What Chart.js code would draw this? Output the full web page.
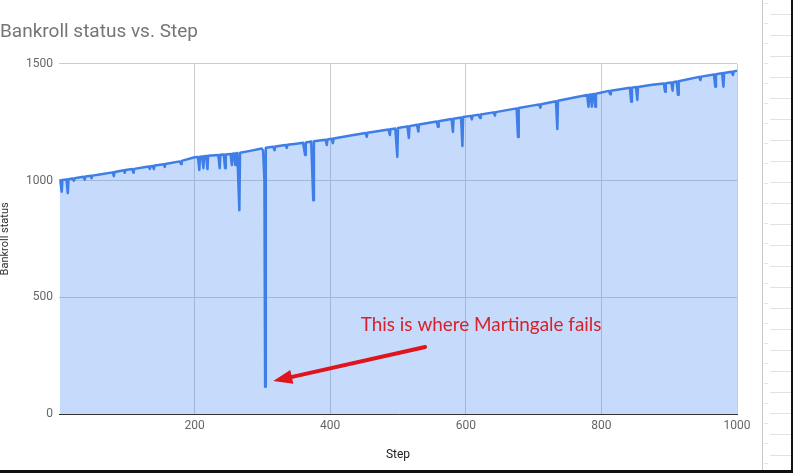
<!DOCTYPE html>
<html>
<head>
<meta charset="utf-8">
<script src="https://cdn.jsdelivr.net/npm/chart.js@4"></script>
<style>
  html, body { margin: 0; padding: 0; background: #fff; }
  #wrap { width: 793px; height: 473px; }
</style>
</head>
<body>
<div id="wrap"><canvas id="chart" width="793" height="473"></canvas></div>
<script>
// values: step and bankroll at that step (dips included)
const steps = [
  1, 2, 4, 5, 11, 13, 14, 20, 22, 23, 36, 38, 39, 47, 48, 49, 60, 79, 81, 82,
  96, 97, 98, 108, 110, 111,
  132, 134, 135, 138, 140, 141, 155, 156, 157, 178, 180, 181, 200,
  205, 207, 208, 211, 213, 214, 217, 219, 220, 235, 237, 238, 243, 245, 246,
  253, 255, 256, 258, 260, 261, 263, 266, 267, 280,
  299, 301, 303, 304, 305, 316, 318, 319, 334, 336, 337, 350,
  360, 363, 364, 372, 375, 376, 393, 395, 396, 402, 404, 405, 430,
  452, 454, 455, 486, 488, 489, 496, 499, 500, 514, 516, 517, 528, 530, 531,
  557, 559, 560, 579, 581, 582, 593, 595, 596, 607, 609, 610, 619, 621, 622,
  641, 643, 644, 675, 677, 678, 700, 708, 710, 711,
  733, 735, 736, 760, 779, 781, 782, 784, 786, 787, 789, 791, 792,
  811, 813, 814, 842, 844, 845, 851, 853, 854, 875, 892, 894, 895, 903, 905, 906,
  911, 913, 914, 944, 946, 947, 966, 968, 969, 978, 980, 981, 992, 994, 995, 1000
];
const bankroll = [
  1000, 1001, 952, 1002, 1005, 946, 1006, 1009, 999, 1010, 1016, 1004, 1017, 1020, 1010, 1021, 1026, 1035, 1019, 1037,
  1044, 1033, 1045, 1049, 1033, 1050,
  1060, 1050, 1061, 1062, 1049, 1064, 1070, 1058, 1071, 1082, 1071, 1084, 1100,
  1101, 1045, 1102, 1103, 1053, 1104, 1105, 1049, 1106, 1109, 1053, 1110, 1111, 1053, 1112,
  1114, 1066, 1115, 1116, 1066, 1117, 1118, 873, 1119, 1126,
  1137, 1128, 1000, 117, 1140, 1145, 1130, 1146, 1152, 1140, 1153, 1158,
  1162, 1109, 1163, 1167, 916, 1168, 1175, 1152, 1176, 1179, 1160, 1180, 1193,
  1204, 1187, 1205, 1219, 1195, 1220, 1223, 1101, 1225, 1232, 1182, 1233, 1239, 1210, 1240,
  1253, 1230, 1254, 1264, 1208, 1265, 1270, 1148, 1272, 1277, 1262, 1278, 1282, 1268, 1283,
  1292, 1278, 1293, 1309, 1187, 1311, 1322, 1326, 1312, 1327,
  1340, 1221, 1342, 1356, 1366, 1316, 1367, 1369, 1316, 1370, 1371, 1316, 1372,
  1384, 1370, 1385, 1397, 1337, 1398, 1401, 1345, 1401, 1410, 1416, 1380, 1417, 1420, 1385, 1421,
  1424, 1367, 1425, 1444, 1430, 1445, 1454, 1402, 1455, 1460, 1402, 1461, 1466, 1452, 1467, 1470
];
const xTicks = [200, 400, 600, 800, 1000];
const yTicks = [0, 500, 1000, 1500];

// the red note drawn on top, anchored in data units
const noteText = 'This is where Martingale fails';
const noteAt = [445, 355];
const arrowFrom = [540, 287];
const arrowTo = [316, 141];

const points = steps.map((s, i) => ({ x: s, y: bankroll[i] }));

// the sheet frame seen round the chart (grid cells on the right, border below)
const sheetFrame = {
  id: 'sheetFrame',
  afterDraw(chart) {
    const ctx = chart.ctx;
    ctx.save();
    ctx.fillStyle = '#c8c8c8';
    ctx.fillRect(762, 0, 1, 470);
    ctx.fillStyle = '#e2e2e2';
    for (let y = 14; y < 470; y += 21) ctx.fillRect(770, y, 21, 1);
    for (let y = 3; y < 470; y += 20) ctx.fillRect(764, y, 4, 1);
    ctx.fillStyle = '#111';
    ctx.fillRect(791, 0, 2, 473);
    ctx.fillRect(0, 470, 793, 3);
    ctx.restore();
  }
};

const note = {
  id: 'note',
  afterDatasetsDraw(chart) {
    const { ctx, scales: { x, y } } = chart;
    ctx.save();
    ctx.fillStyle = '#d8222b';
    ctx.font = '20px Lato';
    const w = ctx.measureText(noteText).width;
    ctx.font = (20 * 241 / w).toFixed(2) + 'px Lato';
    ctx.textBaseline = 'alphabetic';
    ctx.fillText(noteText, x.getPixelForValue(noteAt[0]), y.getPixelForValue(noteAt[1]));

    const x1 = x.getPixelForValue(arrowFrom[0]), y1 = y.getPixelForValue(arrowFrom[1]);
    const x2 = x.getPixelForValue(arrowTo[0]), y2 = y.getPixelForValue(arrowTo[1]);
    const a = Math.atan2(y2 - y1, x2 - x1);
    const head = 19;
    const bx = x2 - Math.cos(a) * head, by = y2 - Math.sin(a) * head;
    ctx.strokeStyle = '#e0141c';
    ctx.fillStyle = '#e0141c';
    ctx.lineWidth = 4;
    ctx.lineCap = 'round';
    ctx.beginPath();
    ctx.moveTo(x1, y1);
    ctx.lineTo(bx + Math.cos(a) * 3, by + Math.sin(a) * 3);
    ctx.stroke();
    ctx.beginPath();
    ctx.moveTo(x2, y2);
    ctx.lineTo(bx + Math.sin(a) * 7, by - Math.cos(a) * 7);
    ctx.lineTo(bx - Math.sin(a) * 7, by + Math.cos(a) * 7);
    ctx.closePath();
    ctx.fill();
    ctx.restore();
  }
};

new Chart(document.getElementById('chart'), {
  type: 'line',
  data: {
    datasets: [{
      data: points,
      borderColor: '#3f7ee6',
      borderWidth: 2.5,
      borderJoinStyle: 'round',
      backgroundColor: 'rgba(66,133,244,0.3)',
      fill: 'origin',
      pointRadius: 0,
      tension: 0
    }]
  },
  options: {
    responsive: false,
    animation: false,
    layout: { padding: { left: 0, right: 56, top: 0, bottom: 2 } },
    plugins: {
      legend: { display: false },
      tooltip: { enabled: false },
      title: {
        display: true,
        text: 'Bankroll status vs. Step',
        align: 'start',
        color: '#757575',
        font: { family: 'Roboto', size: 19, weight: 'normal' },
        padding: { top: 21, bottom: 20 }
      }
    },
    scales: {
      x: {
        type: 'linear',
        min: 0,
        max: 1000,
        afterBuildTicks: s => { s.ticks = xTicks.map(v => ({ value: v })); },
        afterFit: s => { s.height = 57; },
        ticks: {
          color: '#666',
          font: { family: 'Roboto', size: 12 },
          padding: 5,
          maxRotation: 0,
          callback: v => String(v)
        },
        grid: { color: '#cccccc', drawTicks: false },
        border: { display: true, color: '#333', width: 1 },
        title: {
          display: true,
          text: 'Step',
          color: '#222',
          font: { family: 'Roboto', size: 12 },
          padding: { top: 0, bottom: 9 }
        }
      },
      y: {
        min: 0,
        max: 1500,
        afterBuildTicks: s => { s.ticks = yTicks.map(v => ({ value: v })); },
        afterFit: s => { s.width = 59; },
        ticks: {
          color: '#666',
          font: { family: 'Roboto', size: 12 },
          padding: 6,
          callback: v => String(v)
        },
        grid: { color: '#cccccc', drawTicks: false },
        border: { display: false },
        title: {
          display: true,
          text: 'Bankroll status',
          color: '#333',
          font: { family: 'Roboto', size: 11 },
          padding: { top: -1, bottom: 0 }
        }
      }
    }
  },
  plugins: [sheetFrame, note]
});
</script>
</body>
</html>
